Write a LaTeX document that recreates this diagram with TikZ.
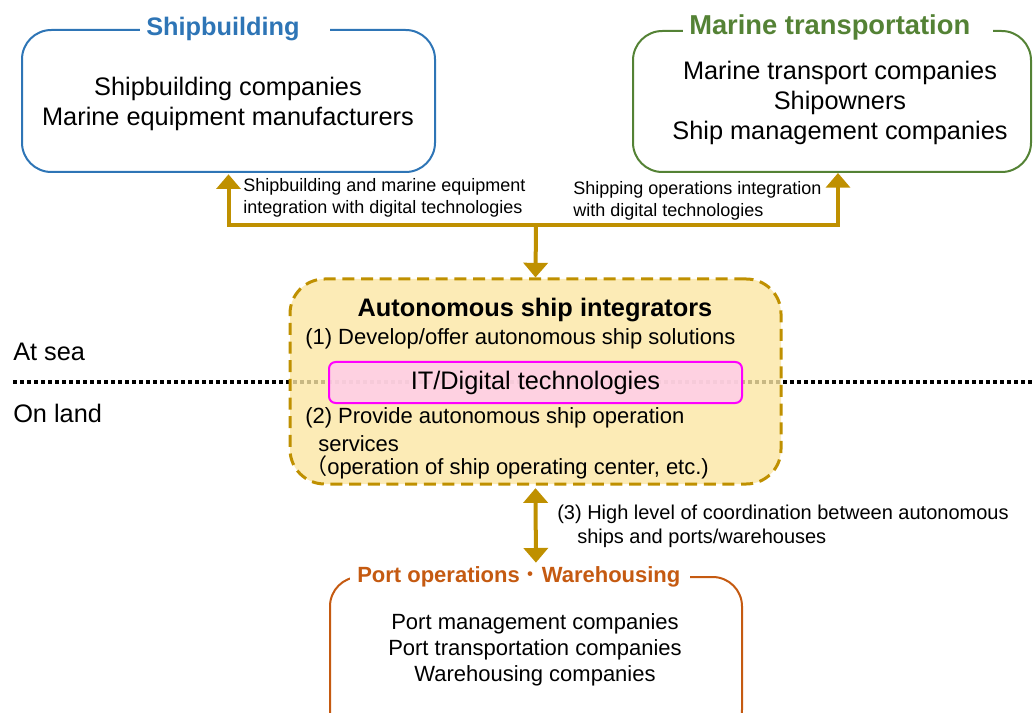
\documentclass[tikz,border=0pt]{standalone}
\usepackage{fontspec}
\setmainfont{Liberation Sans}
\newfontfamily\cjk{Noto Sans CJK JP}
\usetikzlibrary{arrows.meta}
\definecolor{sbblue}{HTML}{2E75B6}
\definecolor{mtgreen}{HTML}{548235}
\definecolor{portor}{HTML}{C55A11}
\definecolor{gold}{HTML}{BF9000}
\definecolor{cyellow}{HTML}{FBE6A4}
\definecolor{pinkf}{HTML}{FFCEE9}
\definecolor{magen}{HTML}{FF00FF}
\newcommand\fmain{\fontsize{19pt}{22.5pt}\selectfont}
\newcommand\fmid{\fontsize{16.5pt}{19.5pt}\selectfont}
\newcommand\flbl{\fontsize{13.5pt}{16pt}\selectfont}
\newcommand\flblb{\fontsize{15pt}{18pt}\selectfont}
\tikzset{
  every node/.style={inner sep=0pt},
  grp/.style={draw, line width=1.5pt, rounded corners=22pt, align=center},
  ttl/.style={anchor=west},
  flow/.style={draw=gold, line width=3pt, line join=miter},
  >={Triangle[width=18pt,length=11pt]},
  dotline/.style={line width=2.8pt, dash pattern=on 2.8pt off 2.45pt},
  lbl/.style={font=\flbl, align=left, anchor=west},
}
\begin{document}
\begin{tikzpicture}[x=0.75pt,y=-0.75pt]
\useasboundingbox (0,0) rectangle (1033,713);
\clip (0,0) rectangle (1033,713);

% at sea / on land divider
\coordinate (dl) at (13,382);
\coordinate (dr) at (1040,382);
\draw[dotline] (dl) -- (dr);
\node[font=\fmain, anchor=west] (sea) at (13,352) {At sea};
\node[font=\fmain, anchor=west] (land) at (13,413) {On land};

% Shipbuilding
\node[grp, draw=sbblue, minimum width=309.75pt, minimum height=106.5pt] (sb) at (228.5,101) {};
\node[font=\fmain, align=center] (sbx) at (228,103.5)
  {Shipbuilding companies\\Marine equipment manufacturers};
\fill[white] (140,20) rectangle (330,40);
\node[ttl, font=\fmain\bfseries, text=sbblue] (sbt) at (146,29) {Shipbuilding};

% Marine transportation
\node[grp, draw=mtgreen, minimum width=298.5pt, minimum height=105.75pt] (mt) at (832,101.5) {};
\node[font=\fmain, align=center] (mtx) at (840,102.5)
  {Marine transport companies\\Shipowners\\Ship management companies};
\fill[white] (683,18) rectangle (993,40);
\node[ttl, font=\fontsize{20.5pt}{24pt}\selectfont\bfseries, text=mtgreen] (mtt) at (689,27) {Marine transportation};

% Autonomous ship integrators
\node[draw=gold, line width=2.25pt, dash pattern=on 9pt off 5pt, fill=cyellow, fill opacity=0.8, draw opacity=1,
  rounded corners=26pt, minimum width=368.25pt, minimum height=153.75pt] (ci) at (535.5,381.5) {};
\node[draw=magen, line width=1.5pt, fill=pinkf, fill opacity=0.85, draw opacity=1, text opacity=1,
  rounded corners=5pt, minimum width=309.75pt, minimum height=30.75pt, font=\fmain] (it) at (535.5,382.5) {IT/Digital technologies};
\node[font=\fmain\bfseries] (cit) at (535,310) {Autonomous ship integrators};
\node[font=\fmid, anchor=west] (c1) at (305,339) {(1) Develop/offer autonomous ship solutions};
\node[font=\fmid, anchor=west] (c2) at (305,418) {(2) Provide autonomous ship operation};
\node[font=\fmid, anchor=west] (c3) at (318,444) {services};
\node[font=\fmid, anchor=west] (c4) at (305,467) {{\cjk （}operation of ship operating center, etc.)};

% Port operations / Warehousing
\node[grp, draw=portor, minimum width=309pt, minimum height=121.5pt] (port) at (536,658) {};
\fill[white] (350,567) rectangle (690,590);
\node[ttl, font=\fontsize{16.5pt}{19.5pt}\selectfont\bfseries, text=portor] (portt) at (357,577)
  {Port operations{\cjk\mdseries ・}Warehousing};
\node[font=\fmid, align=center] (portx) at (535,650)
  {Port management companies\\Port transportation companies\\Warehousing companies};

% connectors
\coordinate (j) at (536,225);
\draw[flow, <->, shorten <=1pt] (sb.south) |- (j) -| ([xshift=4.5pt]mt.south);
\draw[flow, ->] (j) -- (ci.north);
\draw[flow, <->, shorten <=2pt, shorten >=10pt] (ci.south) -- (port.north);

% connector labels
\node[lbl] (l1) at (243,198) {Shipbuilding and marine equipment\\integration with digital technologies};
\node[lbl] (l2) at (573,201) {Shipping operations integration\\with digital technologies};
\node[lbl, font=\flblb] (l3) at (557,526) {(3) High level of coordination between autonomous\\\hspace*{15pt}ships and ports/warehouses};
\end{tikzpicture}
\end{document}
